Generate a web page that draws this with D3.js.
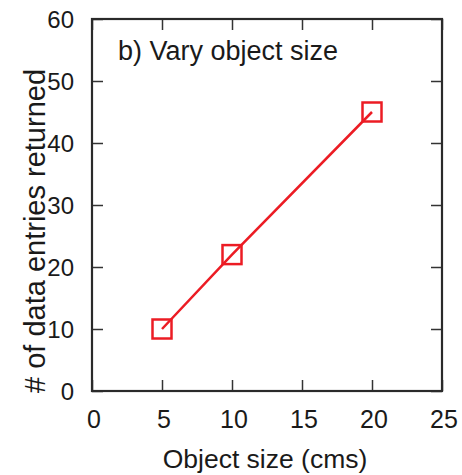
<!DOCTYPE html>
<html>
<head>
<meta charset="utf-8">
<script src="https://cdn.jsdelivr.net/npm/d3@7"></script>
<style>
  body { margin: 0; background: #fff; }
  svg text { font-family: "Liberation Sans", Arial, sans-serif; fill: #1a1a1a; }
</style>
</head>
<body>
<svg id="chart"></svg>
<script>
// data
const sizes = [5, 10, 20];
const entries = [10, 22, 45];
const xTicks = [0, 5, 10, 15, 20, 25];
const yTicks = [0, 10, 20, 30, 40, 50, 60];

const config = {
  width: 462,
  height: 475,
  margin: { top: 19, right: 20, bottom: 84, left: 92 }
};

const innerW = config.width - config.margin.left - config.margin.right;
const innerH = config.height - config.margin.top - config.margin.bottom;

const svg = d3.select('#chart')
  .attr('width', config.width)
  .attr('height', config.height);

const chart = svg.append('g')
  .attr('transform', `translate(${config.margin.left},${config.margin.top})`);

const xScale = d3.scaleLinear().domain([0, 25]).range([0, innerW]);
const yScale = d3.scaleLinear().domain([0, 60]).range([innerH, 0]);

const tickLen = 11;

// inward ticks on all four sides (gnuplot style)
const xAxisBottom = d3.axisTop(xScale).tickValues(xTicks).tickSize(tickLen).tickFormat('');
const xAxisTop = d3.axisBottom(xScale).tickValues(xTicks).tickSize(tickLen).tickFormat('');
const yAxisLeft = d3.axisRight(yScale).tickValues(yTicks).tickSize(tickLen).tickFormat('');
const yAxisRight = d3.axisLeft(yScale).tickValues(yTicks).tickSize(tickLen).tickFormat('');

const axes = [
  [xAxisBottom, `translate(0,${innerH})`],
  [xAxisTop, 'translate(0,0)'],
  [yAxisLeft, 'translate(0,0)'],
  [yAxisRight, `translate(${innerW},0)`]
];
axes.forEach(([ax, tr]) => {
  const g = chart.append('g').attr('transform', tr).call(ax);
  g.select('.domain').remove();
  g.selectAll('.tick line').attr('stroke', '#333').attr('stroke-width', 1.5);
});

// frame
chart.append('rect')
  .attr('width', innerW)
  .attr('height', innerH)
  .attr('fill', 'none')
  .attr('stroke', '#2a2a2a')
  .attr('stroke-width', 2.2);

// tick labels
chart.append('g').selectAll('text')
  .data(xTicks)
  .join('text')
  .attr('x', d => xScale(d) + 2)
  .attr('y', innerH + 37)
  .attr('text-anchor', 'middle')
  .style('font-size', '25px')
  .text(d => d);

chart.append('g').selectAll('text')
  .data(yTicks)
  .join('text')
  .attr('x', -18)
  .attr('y', d => yScale(d))
  .attr('dy', '0.36em')
  .attr('text-anchor', 'end')
  .style('font-size', '24px')
  .text(d => d);

// axis titles
svg.append('text')
  .attr('x', config.margin.left + innerW / 2 - 2)
  .attr('y', 468)
  .attr('text-anchor', 'middle')
  .style('font-size', '26.5px')
  .text('Object size (cms)');

svg.append('text')
  .attr('transform', `translate(45,231) rotate(-90)`)
  .attr('text-anchor', 'middle')
  .style('font-size', '29px')
  .text('# of data entries returned');

// panel title
chart.append('text')
  .attr('x', 26)
  .attr('y', 41)
  .style('font-size', '27px')
  .text('b) Vary object size');

// series
const line = d3.line()
  .x((d, i) => xScale(sizes[i]))
  .y(d => yScale(d));

chart.append('path')
  .datum(entries)
  .attr('d', line)
  .attr('fill', 'none')
  .attr('stroke', '#ec1c24')
  .attr('stroke-width', 2.5);

const box = 19;
chart.append('g').selectAll('rect')
  .data(entries)
  .join('rect')
  .attr('x', (d, i) => xScale(sizes[i]) - box / 2)
  .attr('y', d => yScale(d) - box / 2)
  .attr('width', box)
  .attr('height', box)
  .attr('fill', 'none')
  .attr('stroke', '#ec1c24')
  .attr('stroke-width', 2.5);
</script>
</body>
</html>
